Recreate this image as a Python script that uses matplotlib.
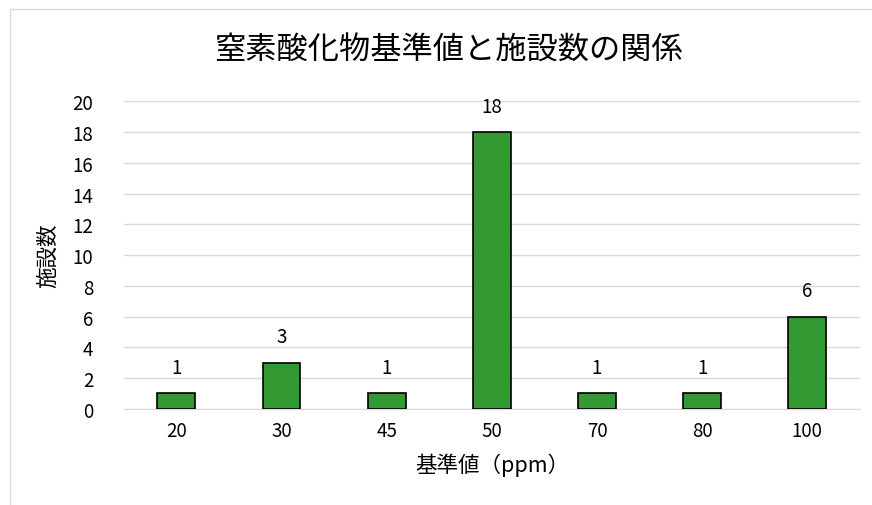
import matplotlib.pyplot as plt
from matplotlib.patches import Rectangle

plt.rcParams['font.family'] = ['Noto Sans CJK JP', 'DejaVu Sans']

categories = ["20", "30", "45", "50", "70", "80", "100"]
counts = [1, 3, 1, 18, 1, 1, 6]

fig = plt.figure(figsize=(8.72, 5.06), dpi=100)
ax = fig.add_axes([0.142, 0.190, 0.844, 0.608])

x = range(len(categories))
bars = ax.bar(x, counts, width=0.36, color="#339933", edgecolor="black", linewidth=1.2, zorder=3)
for xi, v in zip(x, counts):
    ax.text(xi, v + 1.0, str(v), ha="center", va="bottom", fontsize=13.5)

ax.set_xlim(-0.5, len(categories) - 0.5)
ax.set_ylim(0, 20)
ax.set_yticks(range(0, 21, 2))
ax.set_xticks(list(x))
ax.set_xticklabels(categories)
ax.tick_params(length=0, labelsize=13.5, pad=8)
ax.tick_params(axis="y", pad=22)
ax.grid(axis="y", color="#d9d9d9", linewidth=1, zorder=0)
for s in ["top", "right", "left"]:
    ax.spines[s].set_visible(False)
ax.spines["bottom"].set_color("#d9d9d9")

ax.set_xlabel("基準値（ppm）", fontsize=15.5, labelpad=8)
ax.set_ylabel("施設数", fontsize=15.5, labelpad=10)
fig.text(0.514, 0.90, "窒素酸化物基準値と施設数の関係", ha="center", va="center", fontsize=22.5)

fig.patches.append(Rectangle((10 / 872, -0.05), 1.2, 1 - 10 / 506 + 0.05, transform=fig.transFigure,
                             fill=False, edgecolor="#d9d9d9", linewidth=1))

fig.savefig("out.png", dpi=100)
